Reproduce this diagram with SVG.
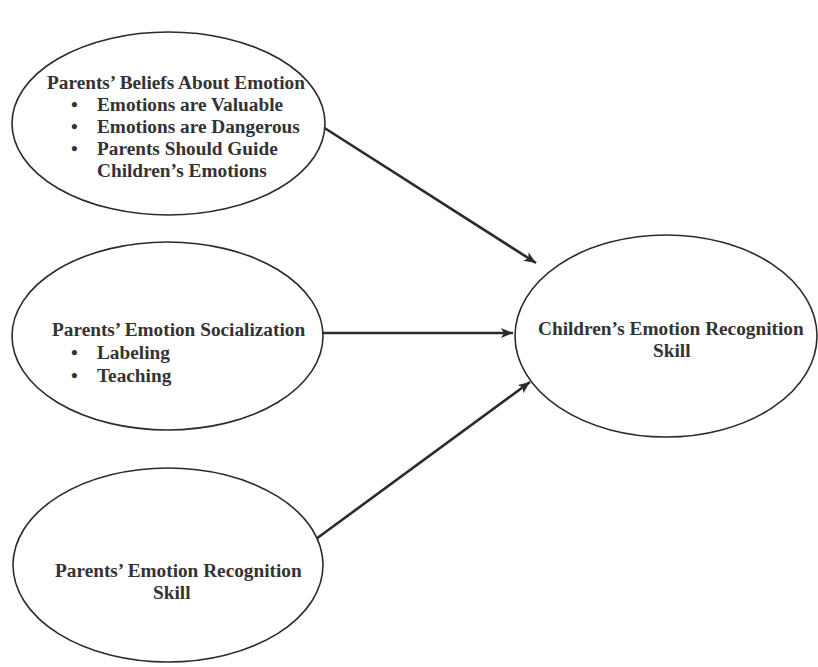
<svg xmlns="http://www.w3.org/2000/svg" width="818" height="667" viewBox="0 0 818 667">
<style>
  .node ellipse { fill: #ffffff; stroke: #2b2b2b; stroke-width: 1.6; }
  .node text { font-family: "Liberation Serif", "Times New Roman", serif; font-weight: bold; font-size: 19.3px; fill: #333333; }
  .conn line { stroke: #2b2b2b; stroke-width: 2.6; fill: none; }
</style>
<defs>
  <marker id="arrow" markerUnits="userSpaceOnUse" markerWidth="14" markerHeight="12" refX="12" refY="5" orient="auto">
    <path d="M0,0 L12,5 L0,10 L3,5 Z" fill="#2b2b2b"/>
  </marker>
</defs>
<rect width="818" height="667" fill="#ffffff"/>
<g id="connectors" class="conn">
  <line x1="323" y1="127" x2="536" y2="263" marker-end="url(#arrow)"/>
  <line x1="323" y1="333" x2="513" y2="333" marker-end="url(#arrow)"/>
  <line x1="316" y1="539" x2="530" y2="382" marker-end="url(#arrow)"/>
</g>
<g id="beliefs" class="node">
  <ellipse cx="168.5" cy="123.5" rx="156.5" ry="91.5"/>
  <text x="47" y="89">Parents’ Beliefs About Emotion</text>
  <text x="71" y="111">•</text><text x="97" y="111">Emotions are Valuable</text>
  <text x="71" y="133">•</text><text x="97" y="133">Emotions are Dangerous</text>
  <text x="71" y="155">•</text><text x="97" y="155">Parents Should Guide</text>
  <text x="97" y="177">Children’s Emotions</text>
</g>
<g id="socialization" class="node">
  <ellipse cx="167.5" cy="336" rx="155.5" ry="94"/>
  <text x="52" y="336">Parents’ Emotion Socialization</text>
  <text x="71" y="359">•</text><text x="97" y="359">Labeling</text>
  <text x="71" y="382">•</text><text x="97" y="382">Teaching</text>
</g>
<g id="parent-recognition" class="node">
  <ellipse cx="168" cy="565" rx="155" ry="97"/>
  <text x="55" y="577">Parents’ Emotion Recognition</text>
  <text x="153" y="599">Skill</text>
</g>
<g id="child-recognition" class="node">
  <ellipse cx="666" cy="336" rx="151" ry="101"/>
  <text x="538" y="335">Children’s Emotion Recognition</text>
  <text x="653" y="357">Skill</text>
</g>
</svg>
